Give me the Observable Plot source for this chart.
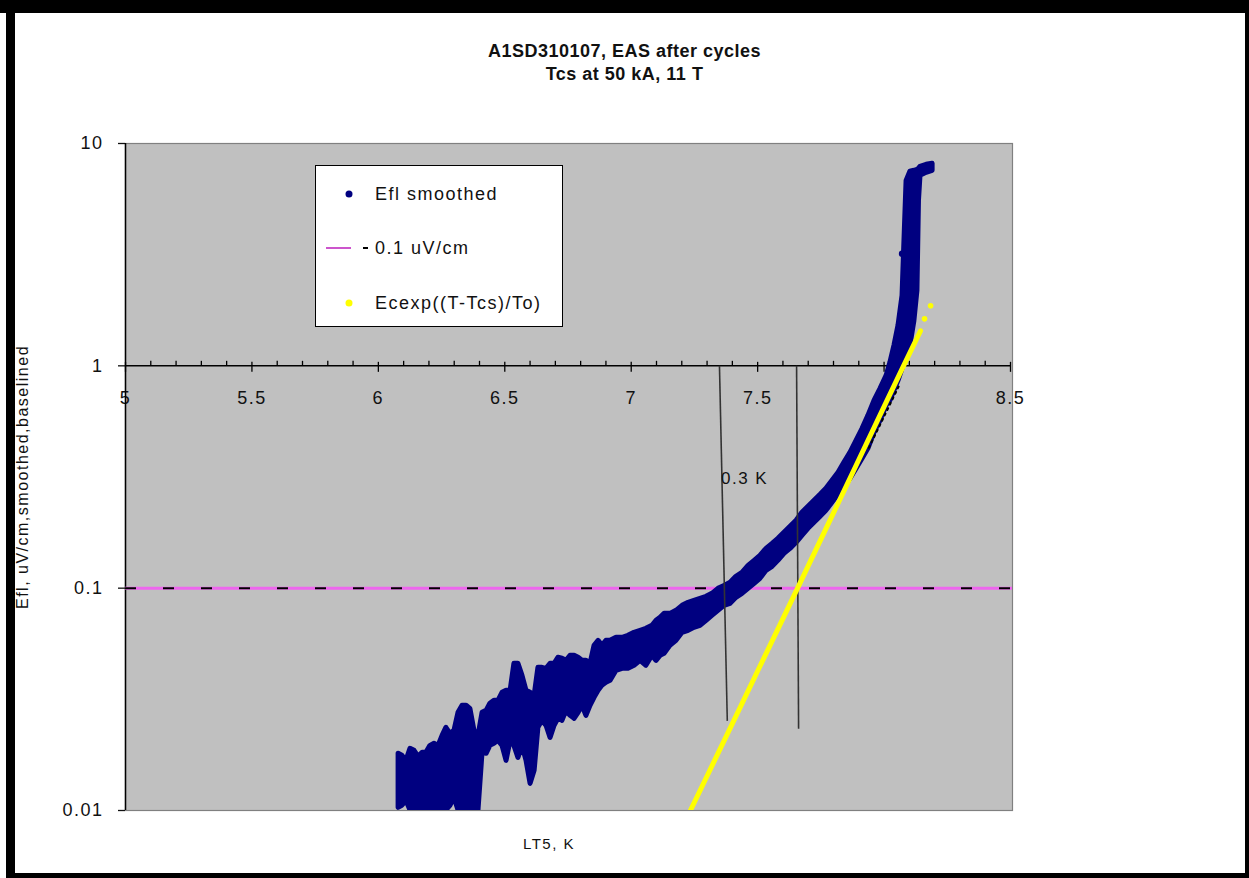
<!DOCTYPE html>
<html>
<head>
<meta charset="utf-8">
<script src="https://cdn.jsdelivr.net/npm/d3@7"></script>
<script src="https://cdn.jsdelivr.net/npm/@observablehq/plot@0.6"></script>
<style>
  body { margin: 0; background: #fff; }
  #fig { position: relative; width: 1249px; height: 878px; background: #fff; overflow: hidden;
         font-family: 'Liberation Sans', Arial, sans-serif; color: #111; }
  .blk { position: absolute; background: #000; }
  .title { position: absolute; left: 0; width: 1249px; text-align: center; font-weight: bold;
           font-size: 18px; letter-spacing: 0.5px; line-height: 1; }
  #legend { position: absolute; left: 315px; top: 165px; width: 248px; height: 162px; box-sizing: border-box;
            border: 1px solid #000; background: #fff; }
  .lt { position: absolute; left: 59px; font-size: 18px; letter-spacing: 1.5px; line-height: 1; transform: translateY(-50%); }
  .ld { position: absolute; width: 7px; height: 7px; border-radius: 50%; transform: translate(-50%,-50%); }
  #plot { position: absolute; left: 0; top: 0; }
</style>
</head>
<body>
<div id="fig">
  <div id="plot"></div>
  <div class="blk" style="left:0;top:0;width:1249px;height:13px"></div>
  <div class="blk" style="left:6px;top:0;width:9px;height:878px"></div>
  <div class="blk" style="left:1245px;top:0;width:4px;height:878px"></div>
  <div class="blk" style="left:6px;top:873px;width:1243px;height:5px"></div>
  <div class="title" id="t1" style="top:42px"></div>
  <div class="title" id="t2" style="top:65px"></div>
  <div id="legend"></div>
</div>
<script>
// ---- texts ----
const title1 = "A1SD310107, EAS after cycles";
const title2 = "Tcs at 50 kA, 11 T";
const yLabel = "Efl, uV/cm,smoothed,baselined";
const xLabel = "LT5, K";
const legendLabels = ["Efl smoothed", "0.1 uV/cm", "Ecexp((T-Tcs)/To)"];
const noteText = ["0.3 K"];
const noteX = [7.355];
const noteY = [0.31];

// ---- axes ----
const xTickValues = [5, 5.5, 6, 6.5, 7, 7.5, 8, 8.5];
const xTickLabels = ["5", "5.5", "6", "6.5", "7", "7.5", "8", "8.5"];
const xMinorTicks = [5.1, 5.2, 5.3, 5.4, 5.6, 5.7, 5.8, 5.9, 6.1, 6.2, 6.3, 6.4, 6.6, 6.7, 6.8, 6.9,
                     7.1, 7.2, 7.3, 7.4, 7.6, 7.7, 7.8, 7.9, 8.1, 8.2, 8.3, 8.4];
const yTickValues = [10, 1, 0.1, 0.01];
const yTickLabels = ["10", "1", "0.1", "0.01"];
const xAxisAt = 1;

// ---- Efl smoothed (dense scatter, read as vertical extent per temperature) ----
const bandX = [6.080,6.095,6.111,6.127,6.143,6.159,6.175,6.190,6.206,6.222,6.238,6.254,6.269,6.285,6.301,
  6.317,6.333,6.349,6.364,6.380,6.396,6.412,6.428,6.443,6.459,6.475,6.491,6.507,6.523,6.538,6.554,6.570,
  6.586,6.602,6.618,6.633,6.649,6.665,6.681,6.697,6.712,6.728,6.744,6.760,6.776,6.792,6.807,6.823,6.839,
  6.855,6.871,6.886,6.902,6.918,6.942,6.966,6.989,7.013,7.037,7.060,7.084,7.100,7.116,7.132,7.155,7.179,
  7.203,7.227,7.250,7.274,7.298,7.321,7.345,7.369,7.393,7.416,7.440,7.464,7.488,7.511,7.535,7.559,7.582,
  7.606,7.630,7.654,7.677,7.701,7.725,7.749,7.772,7.796,7.820,7.843,7.867,7.891,7.915,7.938,7.962,7.986,
  8.010,8.025,8.041,8.057,8.073,8.089,8.104,8.120,8.132,8.138,8.144,8.168,8.192];
const bandHi = [.01799,.01762,.01672,.01894,.01855,.01743,.01817,.01817,.01953,.01994,.01953,.02167,.02354,.02213,.02283,
  .02750,.02957,.02957,.02866,.02283,.02167,.02750,.02807,.03019,.03113,.03113,.03382,.03453,.03453,.04569,.04569,.04034,
  .03453,.03382,.03279,.04383,.04383,.04338,.04569,.04569,.04862,.04812,.04713,.04963,.04963,.04862,.04713,.04713,.04569,
  .05504,.05796,.05504,.05796,.05796,.05979,.05979,.06104,.06297,.06429,.06564,.06772,.07129,.0735,.07663,.07663,.07907,
  .08326,.08590,.08770,.08954,.09141,.09429,.09931,.1024,.1057,.1125,.1172,.1260,.1327,.1397,.1502,.1582,.1667,
  .1774,.1888,.2009,.2183,.2322,.2471,.2629,.2798,.3039,.3301,.3662,.4062,.4599,.5207,.5958,.6959,.7880,
  .9016,1.032,1.230,1.513,2.065,6.79,7.46,7.538,7.61,7.69,7.854,8.019,8.102];
const bandLo = [.01028,.01050,.01105,.0100,.0100,.01017,.0100,.0100,.0100,.0100,.0100,.0100,.0100,.01050,.01140,
  .0100,.0100,.0100,.0100,.0100,.0100,.01817,.01799,.01953,.01994,.02057,.01953,.01672,.02057,.01953,.01725,.01953,
  .01672,.01318,.01508,.02354,.02531,.02404,.02122,.02404,.02584,.02531,.02807,.02665,.02584,.02750,.02957,.02665,.02957,
  .03212,.03453,.03637,.03752,.03830,.04249,.04338,.04338,.04475,.04713,.04475,.04963,.04713,.04963,.05067,.05504,.05796,
  .06297,.06429,.06633,.06772,.07129,.07506,.07907,.08326,.08500,.09047,.09429,.09931,.1046,.1102,.1197,.1247,.1327,
  .1427,.1502,.1599,.1720,.1849,.1967,.2094,.2229,.2420,.2629,.2827,.3102,.3441,.3817,.4233,.4995,.5656,
  .6607,.6959,.772,.856,.9694,1.098,1.230,1.59,2.175,5.52,7.155,7.380,7.538];
const strayX = [8.071];
const strayY = [3.19];

// ---- 0.1 uV/cm threshold ----
const threshold = [0.1];

// ---- Ecexp((T-Tcs)/To) ----
const fitX = [7.234, 7.30, 7.40, 7.50, 7.60, 7.658, 7.70, 7.80, 7.90, 8.00, 8.077, 8.144];
const fitY = [0.0100, 0.0143, 0.0246, 0.0424, 0.0729, 0.100, 0.126, 0.218, 0.378, 0.655, 1.00, 1.437];
const fitSparseX = [8.160, 8.184];
const fitSparseY = [1.627, 1.862];
const fitDotX = [7.940, 8.063];
const fitDotY = [0.428, 0.83];

// ---- drawn 0.3 K construction lines ----
const markX1 = [7.349, 7.654];
const markX2 = [7.380, 7.662];
const markTop = [1, 1];
const markBottom = [0.0253, 0.0233];

// ---- build tables ----
const band = bandX.map((x, i) => ({x, hi: bandHi[i], lo: bandLo[i]}));
const stray = strayX.map((x, i) => ({x, y: strayY[i]}));
const fit = fitX.map((x, i) => ({x, y: fitY[i]}));
const fitSparse = fitSparseX.map((x, i) => ({x, y: fitSparseY[i]}));
const fitDots = fitDotX.map((x, i) => ({x, y: fitDotY[i]}));
const marks2 = markX1.map((x1, i) => ({x1, x2: markX2[i], y1: markTop[i], y2: markBottom[i]}));
const note = noteText.map((t, i) => ({t, x: noteX[i], y: noteY[i]}));

const NAVY = "#000080", YEL = "#ffff00", MAG = "#ee66ee";
const minorSym = {draw(ctx) { ctx.moveTo(0, 0); ctx.lineTo(0, -5); }};
const majorSym = {draw(ctx) { ctx.moveTo(0, -4); ctx.lineTo(0, 6); }};

const chart = Plot.plot({
  width: 1249, height: 878,
  marginLeft: 125, marginRight: 237, marginTop: 143, marginBottom: 68,
  style: {fontFamily: "'Liberation Sans', Arial, sans-serif", fontSize: "18px", letterSpacing: "1.5px",
          color: "#111", background: "transparent", overflow: "visible"},
  x: {type: "linear", domain: [5, 8.5], range: [125, 1010], axis: null},
  y: {type: "log", domain: [0.01, 10]},
  marks: [
    Plot.frame({fill: "#c0c0c0", stroke: "#808080", strokeWidth: 1.2}),
    // x tick labels (drawn beneath data)
    Plot.text(xTickValues, {x: d => d, y: xAxisAt, text: (d, i) => xTickLabels[i], dy: 32, fontSize: 18, fill: "#111"}),
    // y axis
    Plot.axisY({ticks: yTickValues, tickFormat: (d) => yTickLabels[yTickValues.indexOf(d)], tickSize: 7, tickPadding: 15,
                fontSize: 18, label: null, strokeWidth: 1.3}),
    Plot.ruleX([5], {stroke: "#000", strokeWidth: 1.5}),
    // x axis at y = 1
    Plot.ruleY([xAxisAt], {x1: 5, x2: 8.5, stroke: "#000", strokeWidth: 1.5}),
    Plot.dot(xMinorTicks, {x: d => d, y: xAxisAt, symbol: minorSym, stroke: "#000", fill: "none", strokeWidth: 1.3}),
    Plot.dot(xTickValues, {x: d => d, y: xAxisAt, symbol: majorSym, stroke: "#000", fill: "none", strokeWidth: 1.3}),
    // threshold line
    Plot.ruleY(threshold, {stroke: MAG, strokeWidth: 3}),
    Plot.ruleY(threshold, {stroke: "#000", strokeWidth: 2, strokeDasharray: "11,27"}),
    // Efl smoothed
    Plot.areaY(band, {x: "x", y1: "lo", y2: "hi", fill: NAVY, stroke: NAVY, strokeWidth: 5,
                      strokeLinejoin: "round", clip: true}),
    Plot.dot(stray, {x: "x", y: "y", r: 3.2, fill: NAVY}),
    // construction lines and note
    Plot.link(marks2, {x1: "x1", y1: "y1", x2: "x2", y2: "y2", stroke: "#333", strokeWidth: 1.6}),
    Plot.text(note, {x: "x", y: "y", text: "t", textAnchor: "start", fontSize: 17, letterSpacing: "1px", fill: "#111"}),
    // exponential fit
    Plot.line(fit, {x: "x", y: "y", stroke: YEL, strokeWidth: 5, clip: true}),
    Plot.dot(fitSparse, {x: "x", y: "y", r: 2.8, fill: YEL}),
    Plot.line(fitDots, {x: "x", y: "y", stroke: "#000", strokeWidth: 2, strokeDasharray: "2,4"}),
    // axis titles
    Plot.text([yLabel], {frameAnchor: "left", textAnchor: "middle", rotate: -90, dx: -103, fontSize: 16, fill: "#111"}),
    Plot.text([xLabel], {frameAnchor: "bottom", dx: -20, dy: 38, fontSize: 15, letterSpacing: "0.8px", fill: "#111"})
  ]
});
document.getElementById("plot").appendChild(chart);

document.getElementById("t1").textContent = title1;
document.getElementById("t2").textContent = title2;

// legend
const lg = document.getElementById("legend");
const rows = [28, 82, 137];
lg.innerHTML =
  `<div class="ld" style="left:33px;top:${rows[0]}px;background:${NAVY}"></div>` +
  `<div style="position:absolute;left:10px;top:${rows[1]-1}px;width:25px;height:2px;background:#cc55cc"></div>` +
  `<div style="position:absolute;left:47px;top:${rows[1]-1}px;width:5px;height:2px;background:#000"></div>` +
  `<div class="ld" style="left:33px;top:${rows[2]}px;background:${YEL}"></div>` +
  legendLabels.map((t, i) => `<div class="lt" style="top:${rows[i]}px">${t}</div>`).join("");
</script>
</body>
</html>
